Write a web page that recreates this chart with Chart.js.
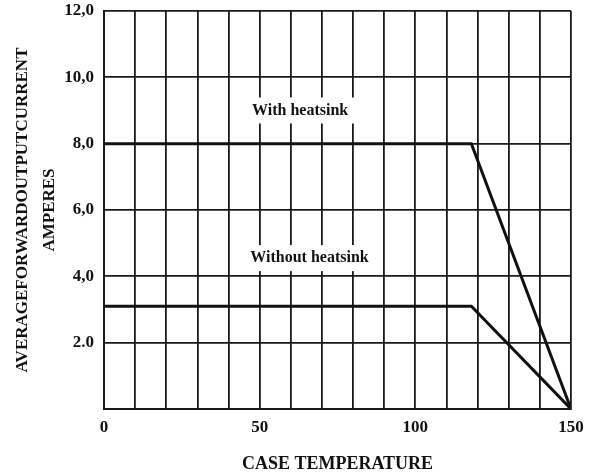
<!DOCTYPE html>
<html>
<head>
<meta charset="utf-8">
<script src="https://cdn.jsdelivr.net/npm/chart.js@4"></script>
<style>
  html, body { margin: 0; padding: 0; background: #fff; }
  #wrap { width: 606px; height: 475px; }
</style>
</head>
<body>
<div id="wrap"><canvas id="deratingChart"></canvas></div>
<script>
// curve data (case temperature in C, current in A)
const withSinkTemp = [0, 118, 150];
const withSinkAmps = [8.0, 8.0, 0];
const withoutSinkTemp = [0, 118, 150];
const withoutSinkAmps = [3.1, 3.1, 0];

const xTickLabels = { 0: '0', 50: '50', 100: '100', 150: '150' };
const yTickLabels = { 2: '2.0', 4: '4,0', 6: '6,0', 8: '8,0', 10: '10,0', 12: '12,0' };

const labelNames = ['With heatsink', 'Without heatsink'];
const labelTemp = [63, 66];
const labelAmps = [9.0, 4.55];

const serif = "'Liberation Serif', 'DejaVu Serif', serif";

function toPoints(xs, ys) {
    return xs.map((x, i) => ({ x: x, y: ys[i] }));
}

// white boxes with text on top of the grid
const curveLabels = {
    id: 'curveLabels',
    afterDatasetsDraw(chart) {
        const c = chart.ctx;
        const xs = chart.scales.x, ys = chart.scales.y;
        c.save();
        c.font = 'bold 16px ' + serif;
        c.textAlign = 'center';
        c.textBaseline = 'middle';
        labelNames.forEach((name, i) => {
            const px = xs.getPixelForValue(labelTemp[i]);
            const py = ys.getPixelForValue(labelAmps[i]);
            const w = c.measureText(name).width + 16;
            c.fillStyle = '#fff';
            c.fillRect(px - w / 2, py - 13, w, 26);
            c.fillStyle = '#111';
            c.fillText(name, px, py);
        });
        c.restore();
    }
};

const ctx = document.getElementById('deratingChart').getContext('2d');
new Chart(ctx, {
    type: 'line',
    data: {
        datasets: [
            {
                label: labelNames[0],
                data: toPoints(withSinkTemp, withSinkAmps),
                borderColor: '#111',
                borderWidth: 3,
                pointRadius: 0,
                fill: false,
                tension: 0
            },
            {
                label: labelNames[1],
                data: toPoints(withoutSinkTemp, withoutSinkAmps),
                borderColor: '#111',
                borderWidth: 3,
                pointRadius: 0,
                fill: false,
                tension: 0
            }
        ]
    },
    options: {
        responsive: true,
        maintainAspectRatio: false,
        animation: false,
        layout: { padding: { top: 11, right: 35, left: 0, bottom: 0 } },
        plugins: {
            legend: { display: false },
            tooltip: { enabled: false }
        },
        scales: {
            x: {
                type: 'linear',
                min: 0,
                max: 150,
                border: { color: '#1a1a1a', width: 2 },
                grid: { color: '#1a1a1a', lineWidth: 1.8, drawTicks: false },
                ticks: {
                    stepSize: 10,
                    autoSkip: false,
                    maxRotation: 0,
                    padding: 8,
                    color: '#111',
                    font: { family: serif, size: 17, weight: 'bold' },
                    callback: v => xTickLabels[v] || ''
                },
                title: {
                    display: true,
                    text: 'CASE TEMPERATURE',
                    color: '#111',
                    padding: { top: 16, bottom: 0 },
                    font: { family: serif, size: 18, weight: 'bold' }
                },
                afterFit: s => { s.height = 66; }
            },
            y: {
                min: 0,
                max: 12,
                border: { color: '#1a1a1a', width: 2 },
                grid: { color: '#1a1a1a', lineWidth: 1.8, drawTicks: false },
                ticks: {
                    stepSize: 2,
                    padding: 10,
                    color: '#111',
                    font: { family: serif, size: 17, weight: 'bold' },
                    callback: v => yTickLabels[v] || ''
                },
                title: {
                    display: true,
                    text: ['AVERAGEFORWARDOUTPUTCURRENT', 'AMPERES'],
                    color: '#111',
                    padding: { top: 9, bottom: 0 },
                    font: { family: serif, size: 17, weight: 'bold', lineHeight: 1.6 }
                },
                afterFit: s => { s.width = 104; s.paddingTop = 0; s.paddingBottom = 0; }
            }
        }
    },
    plugins: [curveLabels]
});
</script>
</body>
</html>
